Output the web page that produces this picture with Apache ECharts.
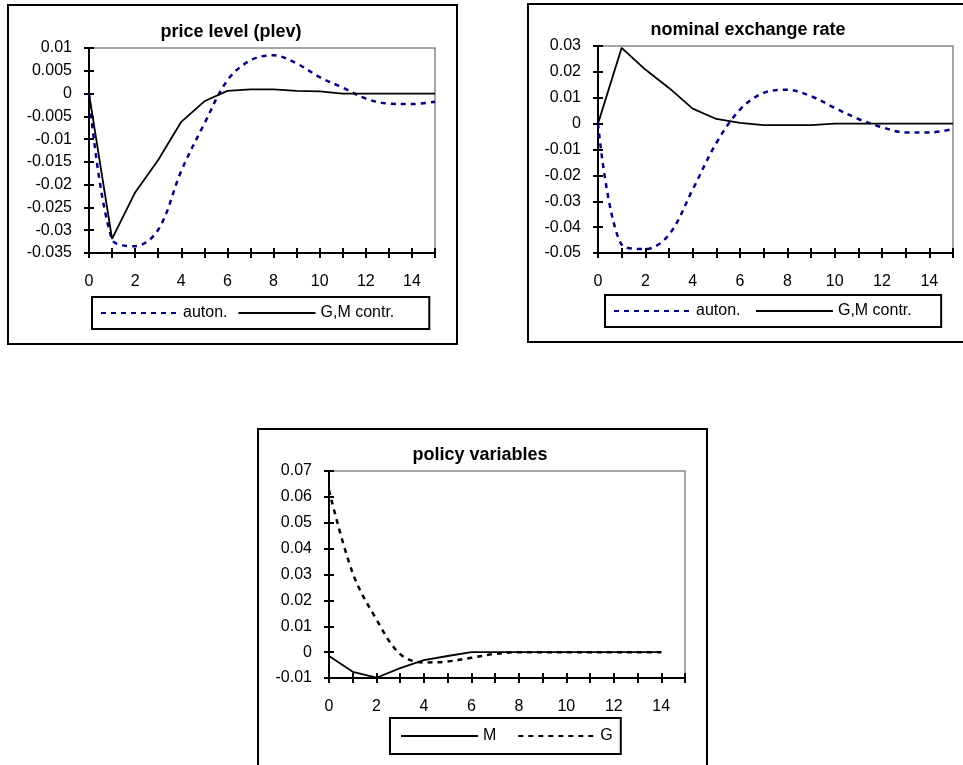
<!DOCTYPE html>
<html lang="en">
<head>
    <meta charset="UTF-8">
    <title>Impulse responses</title>
    <style>
        * {
            padding: 0;
            margin: 0;
        }

        body {
            background: #fff;
        }

        .EC {
            width: 963px;
            height: 765px;
        }
    </style>
    <script src="https://cdn.jsdelivr.net/npm/echarts@6.0.0/dist/echarts.min.js"></script>
</head>
<body>
<div class="EC"></div>
<script>
    // periods
    const periods = [0, 1, 2, 3, 4, 5, 6, 7, 8, 9, 10, 11, 12, 13, 14, 15]
    const policyPeriods = [0, 1, 2, 3, 4, 5, 6, 7, 8, 9, 10, 11, 12, 13, 14]

    // price level (plev)
    const plevAuton = [0, -0.032, -0.0335, -0.0299, -0.0170, -0.0066, 0.0029, 0.0073, 0.0084, 0.0066, 0.0036, 0.0013, -0.0011, -0.0022, -0.0023, -0.0018]
    const plevContr = [0, -0.0319, -0.0217, -0.0146, -0.0062, -0.0017, 0.0006, 0.0009, 0.0009, 0.0006, 0.0005, 0, 0, 0, 0, 0]

    // nominal exchange rate
    const nerAuton = [0, -0.0468, -0.0485, -0.0429, -0.0255, -0.0075, 0.0054, 0.0119, 0.0131, 0.0106, 0.0061, 0.0018, -0.0014, -0.0034, -0.0034, -0.0021]
    const nerContr = [0, 0.0293, 0.0209, 0.0138, 0.0058, 0.0018, 0.0003, -0.0006, -0.0006, -0.0006, 0, 0, 0, 0, 0, 0]

    // policy variables
    const polM = [-0.0015, -0.0076, -0.0099, -0.0062, -0.0031, -0.0015, 0, 0, 0, 0, 0, 0, 0, 0, 0]
    const polG = [0.0626, 0.0305, 0.0126, -0.0008, -0.0040, -0.0036, -0.0022, -0.0007, 0, 0, 0, 0, 0, 0, 0]

    const titles = ['price level (plev)', 'nominal exchange rate', 'policy variables']

    const FONT = "'Liberation Sans', Arial, sans-serif"
    const NAVY = '#000080'

    // plot areas (px)
    const grids = [
        {left: 89, top: 48, width: 346, height: 205},
        {left: 598, top: 46, width: 355, height: 207},
        {left: 329, top: 471, width: 356, height: 207}
    ]
    const yRanges = [[-0.035, 0.01, 0.005], [-0.05, 0.03, 0.01], [-0.01, 0.07, 0.01]]

    const pairs = (xs, ys) => ys.map((v, i) => [xs[i], v])

    window.onload = () => {
        let EC = echarts.init(document.querySelector('.EC'))

        let xAxis = [], yAxis = []
        grids.forEach((g, i) => {
            let r = yRanges[i]
            // main axes, ticks outside
            xAxis.push({
                gridIndex: i, type: 'value', position: 'bottom', min: 0, max: 15, interval: 1,
                axisLine: {onZero: false, lineStyle: {color: '#000', width: 2}},
                axisTick: {length: 5, lineStyle: {color: '#000', width: 2}},
                axisLabel: {
                    margin: 21, fontSize: 16, fontFamily: FONT, color: '#000',
                    formatter: v => (v % 2 === 0 && v < 15) ? String(v) : ''
                },
                splitLine: {show: false}
            })
            // same axis again, ticks inside, so they cross the line
            xAxis.push({
                gridIndex: i, type: 'value', position: 'bottom', min: 0, max: 15, interval: 1,
                axisLine: {show: false, onZero: false},
                axisTick: {inside: true, length: 5, lineStyle: {color: '#000', width: 2}},
                axisLabel: {show: false},
                splitLine: {show: false}
            })
            yAxis.push({
                gridIndex: i, type: 'value', position: 'left', min: r[0], max: r[1], interval: r[2],
                axisLine: {show: true, onZero: false, lineStyle: {color: '#000', width: 2}},
                axisTick: {show: true, length: 5, lineStyle: {color: '#000', width: 2}},
                axisLabel: {
                    margin: 17, fontSize: 16, fontFamily: FONT, color: '#000',
                    formatter: v => String(parseFloat(v.toFixed(4)))
                },
                splitLine: {show: false}
            })
            yAxis.push({
                gridIndex: i, type: 'value', position: 'left', min: r[0], max: r[1], interval: r[2],
                axisLine: {show: false, onZero: false},
                axisTick: {show: true, inside: true, length: 5, lineStyle: {color: '#000', width: 2}},
                axisLabel: {show: false},
                splitLine: {show: false}
            })
        })

        const line = (name, idx, data, color, dashed) => ({
            name: name,
            type: 'line',
            xAxisIndex: idx * 2,
            yAxisIndex: idx * 2,
            data: data,
            symbol: 'none',
            smooth: dashed ? 0.35 : false,
            lineStyle: {color: color, width: dashed ? 2.5 : 1.8, type: dashed ? [5, 5] : 'solid'},
            itemStyle: {color: color}
        })

        const legendBase = {
            orient: 'horizontal',
            borderColor: '#000',
            borderWidth: 2,
            itemGap: 10,
            itemWidth: 77,
            itemHeight: 12,
            itemStyle: {opacity: 0},
            textStyle: {fontSize: 16, fontFamily: FONT, color: '#000'}
        }

        let option = {
            backgroundColor: '#fff',
            animation: false,
            grid: grids.map(g => Object.assign({show: true, borderColor: '#888', borderWidth: 1.5, backgroundColor: 'transparent'}, g)),
            xAxis: xAxis,
            yAxis: yAxis,
            legend: [
                Object.assign({}, legendBase, {left: 92, top: 297, padding: [8, 35, 8, 8], data: ['auton.', 'G,M contr.']}),
                Object.assign({}, legendBase, {left: 605, top: 295, padding: [8, 25, 8, 8], data: ['auton. ', 'G,M contr. ']}),
                Object.assign({}, legendBase, {left: 390, top: 718, padding: [10, 8, 10, 10], itemGap: 21, data: ['M', 'G']})
            ],
            graphic: [
                {type: 'rect', shape: {x: 8, y: 5, width: 449, height: 339}, style: {fill: 'none', stroke: '#000', lineWidth: 2}, silent: true},
                {type: 'rect', shape: {x: 528, y: 4, width: 460, height: 338}, style: {fill: 'none', stroke: '#000', lineWidth: 2}, silent: true},
                {type: 'rect', shape: {x: 258, y: 429, width: 449, height: 360}, style: {fill: 'none', stroke: '#000', lineWidth: 2}, silent: true},
                {type: 'text', x: 231, y: 32, style: {text: titles[0], textAlign: 'center', textVerticalAlign: 'middle', font: 'bold 18px ' + FONT, fill: '#000'}},
                {type: 'text', x: 748, y: 30, style: {text: titles[1], textAlign: 'center', textVerticalAlign: 'middle', font: 'bold 18px ' + FONT, fill: '#000'}},
                {type: 'text', x: 480, y: 455, style: {text: titles[2], textAlign: 'center', textVerticalAlign: 'middle', font: 'bold 18px ' + FONT, fill: '#000'}}
            ],
            series: [
                line('auton.', 0, pairs(periods, plevAuton), NAVY, true),
                line('G,M contr.', 0, pairs(periods, plevContr), '#000', false),
                line('auton. ', 1, pairs(periods, nerAuton), NAVY, true),
                line('G,M contr. ', 1, pairs(periods, nerContr), '#000', false),
                line('M', 2, pairs(policyPeriods, polM), '#000', false),
                line('G', 2, pairs(policyPeriods, polG), '#000', true)
            ]
        }
        EC.setOption(option)
    }
</script>
</body>
</html>
